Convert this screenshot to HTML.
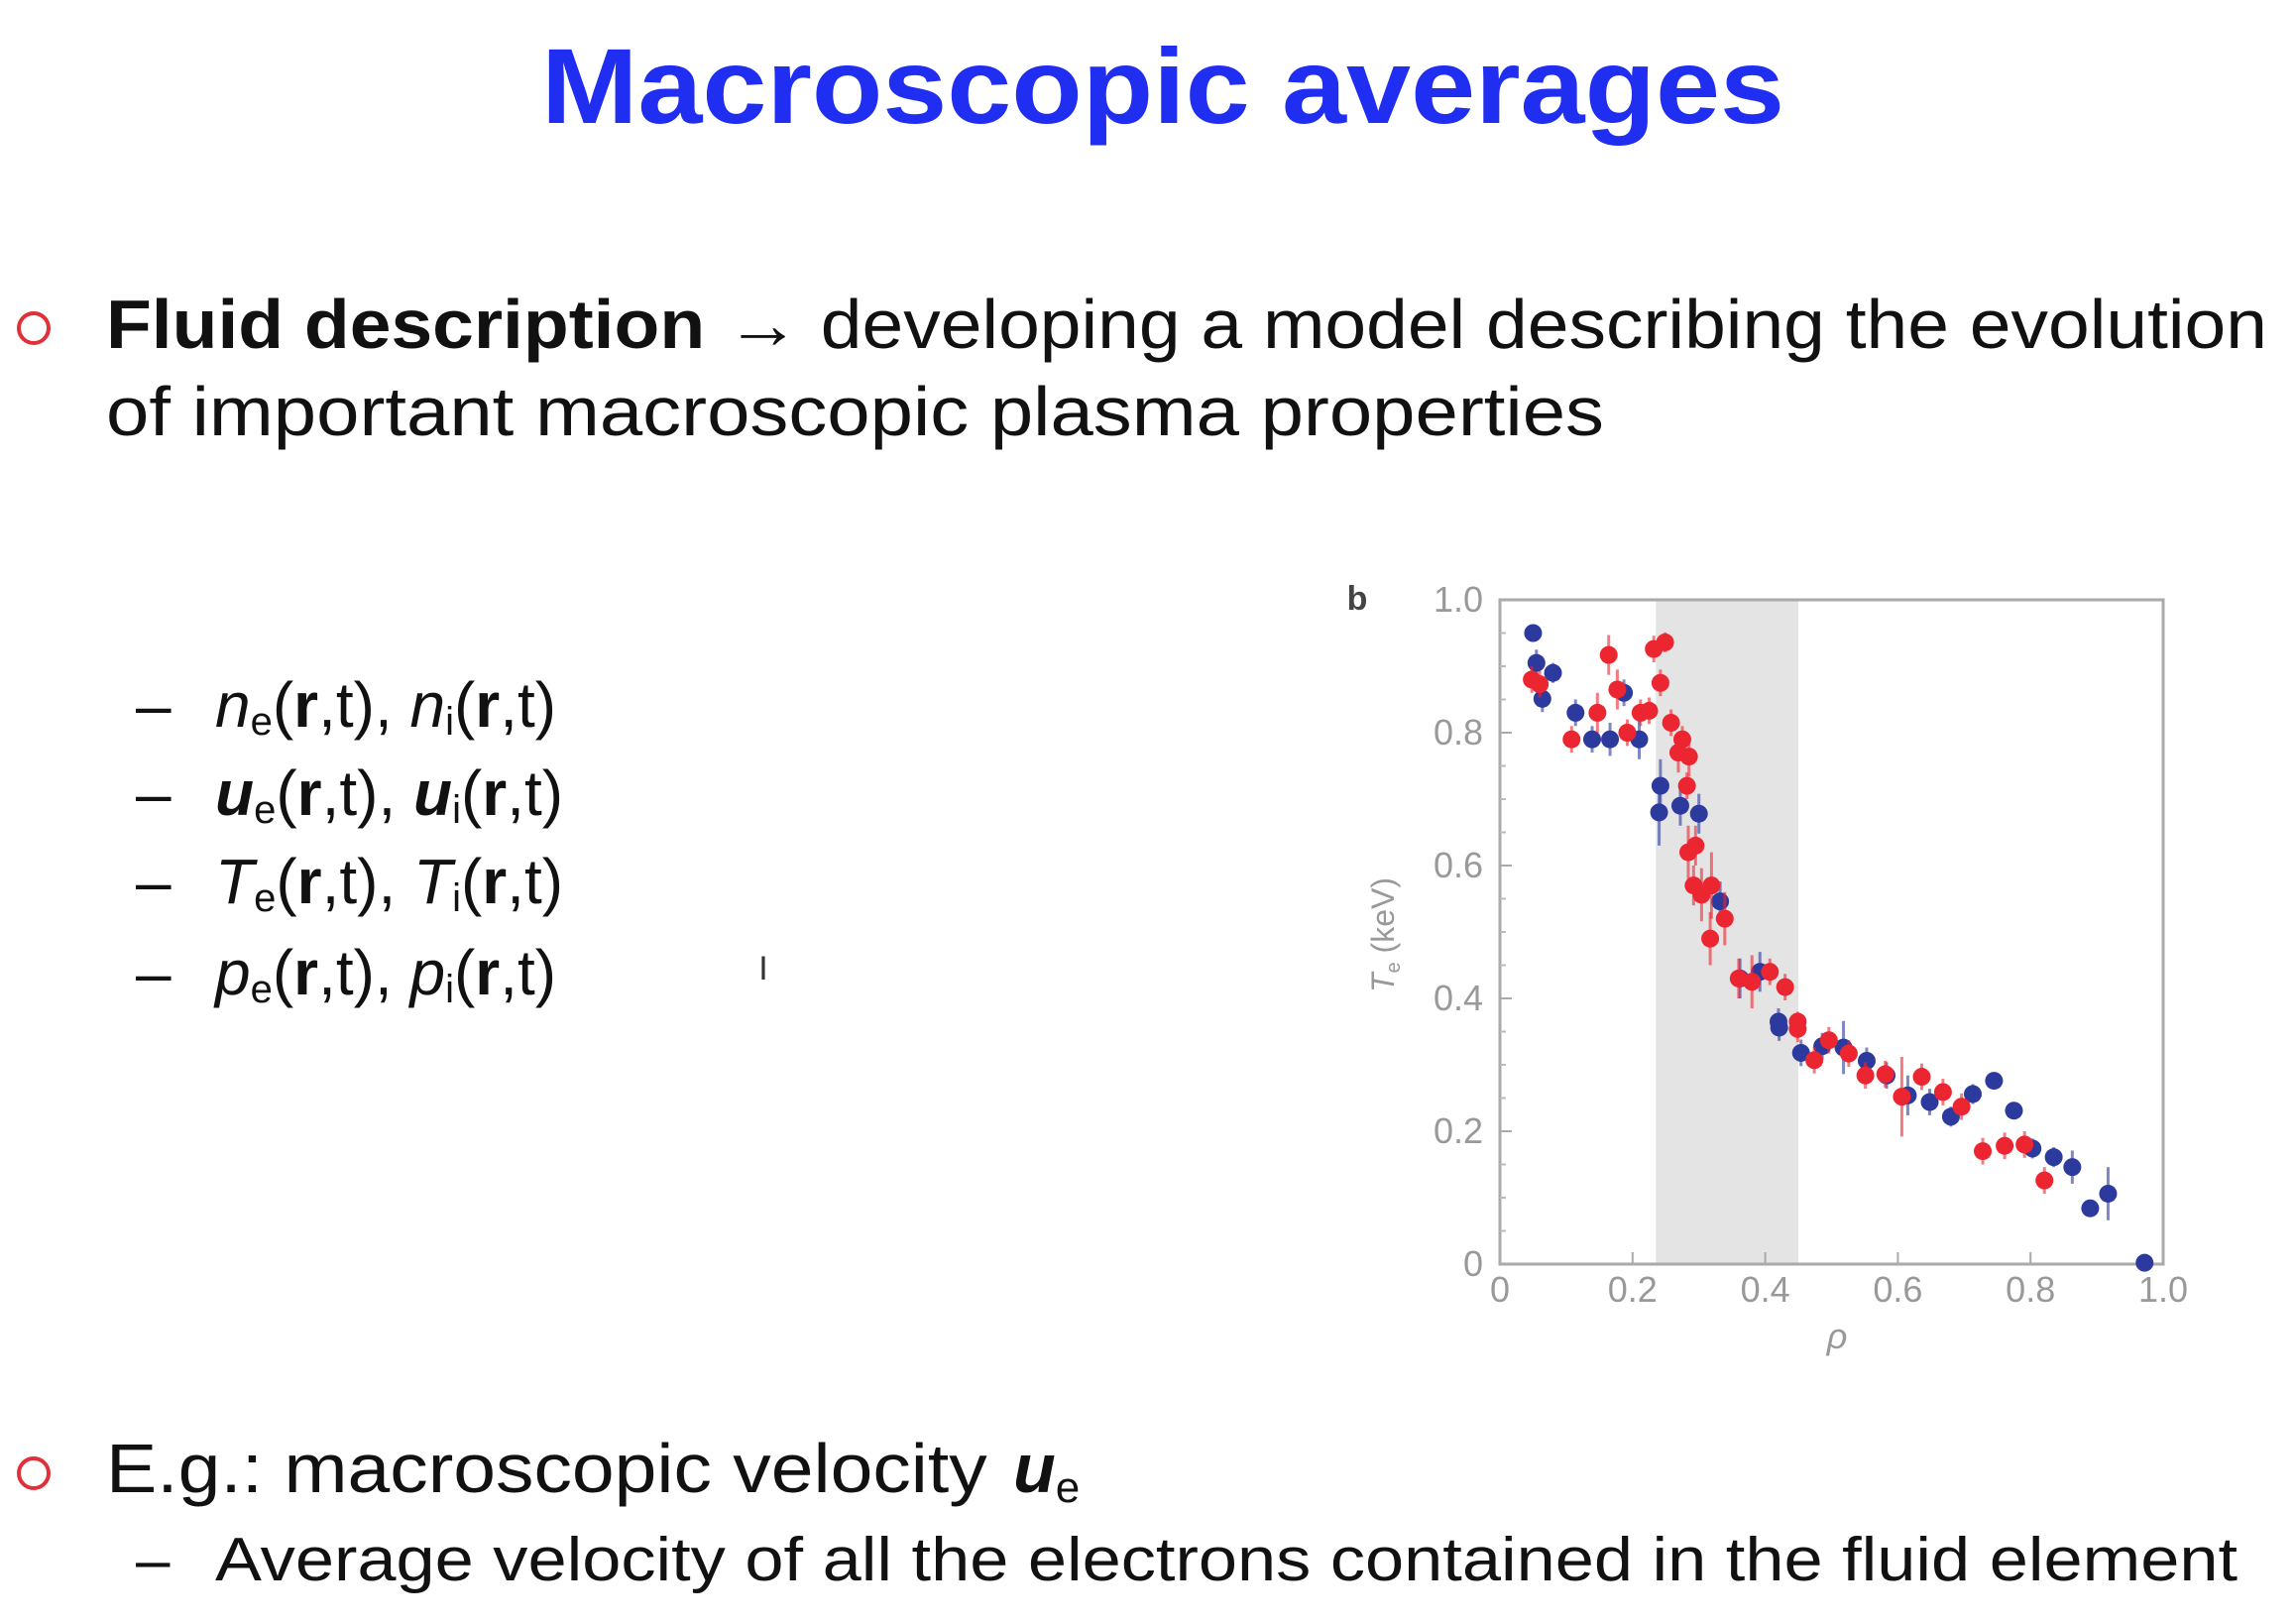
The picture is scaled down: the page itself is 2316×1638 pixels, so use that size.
<!DOCTYPE html>
<html><head><meta charset="utf-8"><style>
html,body{margin:0;padding:0;background:#fff;}
svg{display:block;}
</style></head><body>
<svg id="slide" width="2316" height="1638" viewBox="0 0 2316 1638" xmlns="http://www.w3.org/2000/svg" font-family="'Liberation Sans', sans-serif">
<rect width="2316" height="1638" fill="#fff"/>
<text x="1173" y="124" text-anchor="middle" font-size="108" font-weight="bold" fill="#1f2ef0" textLength="1254" lengthAdjust="spacingAndGlyphs">Macroscopic averages</text>

<circle cx="34" cy="331" r="15" fill="none" stroke="#e0303a" stroke-width="4"/>
<text x="107" y="351" font-size="70" fill="#111" textLength="2180" lengthAdjust="spacingAndGlyphs"><tspan font-weight="bold">Fluid description</tspan> → developing a model describing the evolution</text>
<text x="107" y="439" font-size="70" fill="#111" textLength="1511" lengthAdjust="spacingAndGlyphs">of important macroscopic plasma properties</text>

<g font-size="64" fill="#111">
<text x="137" y="733">–<tspan x="217" font-style="italic">n</tspan><tspan font-size="40" dy="8">e</tspan><tspan dy="-8">(</tspan><tspan font-weight="bold">r</tspan>,t), <tspan font-style="italic">n</tspan><tspan font-size="40" dy="8">i</tspan><tspan dy="-8">(</tspan><tspan font-weight="bold">r</tspan>,t)</text>
<text x="137" y="822">–<tspan x="217" font-style="italic" font-weight="bold">u</tspan><tspan font-size="40" dy="8">e</tspan><tspan dy="-8">(</tspan><tspan font-weight="bold">r</tspan>,t), <tspan font-style="italic" font-weight="bold">u</tspan><tspan font-size="40" dy="8">i</tspan><tspan dy="-8">(</tspan><tspan font-weight="bold">r</tspan>,t)</text>
<text x="137" y="911">–<tspan x="217" font-style="italic">T</tspan><tspan font-size="40" dy="8">e</tspan><tspan dy="-8">(</tspan><tspan font-weight="bold">r</tspan>,t), <tspan font-style="italic">T</tspan><tspan font-size="40" dy="8">i</tspan><tspan dy="-8">(</tspan><tspan font-weight="bold">r</tspan>,t)</text>
<text x="137" y="1003">–<tspan x="217" font-style="italic">p</tspan><tspan font-size="40" dy="8">e</tspan><tspan dy="-8">(</tspan><tspan font-weight="bold">r</tspan>,t), <tspan font-style="italic">p</tspan><tspan font-size="40" dy="8">i</tspan><tspan dy="-8">(</tspan><tspan font-weight="bold">r</tspan>,t)</text>
</g>
<text x="770" y="988" font-size="34" fill="#333" text-anchor="middle">I</text>

<circle cx="34" cy="1486" r="15" fill="none" stroke="#e0303a" stroke-width="4"/>
<text x="107" y="1505" font-size="70" fill="#111"><tspan textLength="910" lengthAdjust="spacingAndGlyphs">E.g.: macroscopic velocity </tspan><tspan x="1022" font-style="italic" font-weight="bold">u</tspan><tspan font-size="44" dy="10">e</tspan></text>
<text x="137" y="1594" font-size="62" fill="#111">–<tspan x="217" textLength="2040" lengthAdjust="spacingAndGlyphs">Average velocity of all the electrons contained in the fluid element</tspan></text>

<g id="chart"></g>
</svg>
<script>
const xTicks=[0,0.2,0.4,0.6,0.8,1.0];
const xTickLabels=["0","0.2","0.4","0.6","0.8","1.0"];
const yTicks=[0,0.2,0.4,0.6,0.8,1.0];
const yTickLabels=["0","0.2","0.4","0.6","0.8","1.0"];
const shadedRange=[0.235,0.45];
const blueRho=[0.05,0.055,0.08,0.064,0.114,0.139,0.166,0.187,0.21,0.242,0.24,0.272,0.30,0.332,0.362,0.392,0.42,0.421,0.454,0.486,0.518,0.553,0.583,0.615,0.648,0.68,0.713,0.745,0.775,0.803,0.835,0.863,0.89,0.917,0.972];
const blueTe=[0.95,0.905,0.89,0.851,0.83,0.79,0.79,0.86,0.79,0.72,0.68,0.69,0.678,0.546,0.43,0.44,0.365,0.356,0.318,0.328,0.326,0.306,0.284,0.254,0.244,0.222,0.256,0.276,0.231,0.174,0.161,0.146,0.084,0.106,0.002];
const blueErr=[0.01,0.02,0.015,0.02,0.02,0.02,0.025,0.02,0.03,0.04,0.05,0.03,0.03,0.03,0.03,0.03,0.02,0.02,0.02,0.02,0.04,0.02,0.02,0.03,0.02,0.015,0.015,0.01,0.01,0.015,0.015,0.025,0.01,0.04,0.01];
const redRho=[0.048,0.06,0.108,0.147,0.164,0.177,0.192,0.212,0.225,0.232,0.249,0.242,0.258,0.275,0.269,0.285,0.282,0.295,0.284,0.292,0.304,0.319,0.339,0.317,0.36,0.38,0.407,0.43,0.449,0.449,0.474,0.496,0.526,0.551,0.581,0.606,0.636,0.668,0.696,0.728,0.761,0.791,0.821];
const redTe=[0.88,0.873,0.79,0.83,0.917,0.865,0.8,0.83,0.833,0.926,0.936,0.875,0.815,0.79,0.77,0.764,0.72,0.63,0.62,0.57,0.556,0.57,0.52,0.49,0.43,0.425,0.44,0.417,0.365,0.354,0.307,0.337,0.317,0.284,0.286,0.252,0.282,0.259,0.237,0.17,0.178,0.18,0.126];
const redErr=[0.02,0.02,0.02,0.03,0.03,0.03,0.02,0.02,0.02,0.02,0.015,0.02,0.02,0.02,0.03,0.03,0.02,0.03,0.04,0.03,0.04,0.05,0.04,0.04,0.03,0.04,0.02,0.02,0.015,0.02,0.02,0.02,0.02,0.02,0.02,0.06,0.02,0.02,0.02,0.02,0.02,0.02,0.02];

const NS="http://www.w3.org/2000/svg";
const X0=1513,X1=2182,Y0=1275,Y1=605;
function xs(v){return X0+(X1-X0)*v;}
function ys(v){return Y0-(Y0-Y1)*v;}
const chart=document.getElementById('chart');
function mk(tag,attrs){const e=document.createElementNS(NS,tag);for(const k in attrs)e.setAttribute(k,attrs[k]);chart.appendChild(e);return e;}

let e=mk('rect',{x:xs(shadedRange[0]),y:Y1,width:xs(shadedRange[1])-xs(shadedRange[0]),height:Y0-Y1,fill:'#e4e4e4'});


e=mk('rect',{x:X0,y:Y1,width:X1-X0,height:Y0-Y1,fill:'none',stroke:'#aaa','stroke-width':3});



for(let i=0;i<xTicks.length;i++){
  e=mk('line',{x1:xs(xTicks[i]),x2:xs(xTicks[i]),y1:Y0,y2:Y0-12,stroke:'#aaa','stroke-width':2});
  
  
  e=mk('text',{x:xs(xTicks[i]),y:Y0+38,'text-anchor':'middle','font-size':36,fill:'#999'});
  e.textContent=xTickLabels[i];
  
  
}
for(let i=0;i<=20;i++){
  e=mk('line',{x1:X0,x2:X0+6,y1:ys(i/20),y2:ys(i/20),stroke:'#bbb','stroke-width':2});
  
  
}
for(let i=0;i<yTicks.length;i++){
  e=mk('line',{x1:X0,x2:X0+12,y1:ys(yTicks[i]),y2:ys(yTicks[i]),stroke:'#aaa','stroke-width':2});
  
  
  e=mk('text',{x:X0-17,y:ys(yTicks[i])+12,'text-anchor':'end','font-size':36,fill:'#999'});
  e.textContent=yTickLabels[i];
  
  
}
e=mk('text',{x:1853,y:1360,'text-anchor':'middle','font-size':36,'font-style':'italic',fill:'#999'});
e.textContent='ρ';


e=mk('text',{x:0,y:0,'text-anchor':'middle','font-size':32,fill:'#999',transform:'translate(1406,943) rotate(-90)'});
e.innerHTML='<tspan font-style="italic">T</tspan><tspan font-size="20" dy="6">e</tspan><tspan dy="-6"> (keV)</tspan>';


e=mk('text',{x:1369,y:615,'text-anchor':'middle','font-size':34,'font-weight':'bold',fill:'#444'});
e.textContent='b';



function series(rho,te,err,color,name){
  for(let i=0;i<rho.length;i++){
    let l=mk('line',{x1:xs(rho[i]),x2:xs(rho[i]),y1:ys(te[i]+err[i]),y2:ys(te[i]-err[i]),stroke:color,'stroke-width':3,opacity:0.6});
    
    
    let c=mk('circle',{cx:xs(rho[i]),cy:ys(te[i]),r:9,fill:color});
    
    
  }
}
series(blueRho,blueTe,blueErr,'#2c3a9e','blue-series');
series(redRho,redTe,redErr,'#ec2630','red-series');
</script>
</body></html>
